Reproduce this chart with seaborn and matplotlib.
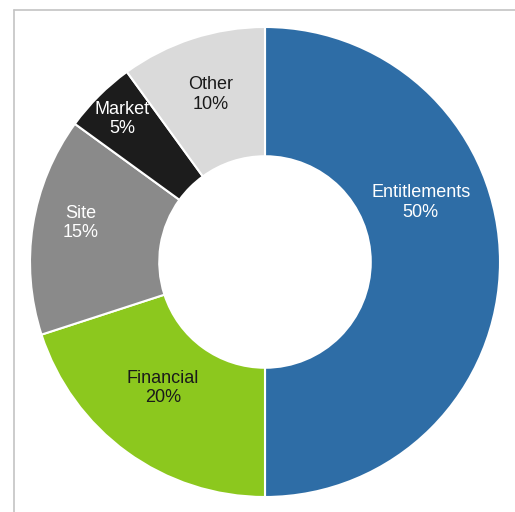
import matplotlib
matplotlib.use("Agg")
import matplotlib.pyplot as plt
from matplotlib.lines import Line2D
import seaborn as sns
import numpy as np

# data
categories = ["Entitlements", "Financial", "Site", "Market", "Other"]
shares = [50, 20, 15, 5, 10]
colors = ["#2e6da6", "#8cc81e", "#8a8a8a", "#1c1c1c", "#dadada"]
text_colors = ["white", "#1a1a1a", "white", "white", "#1a1a1a"]
# label placement tweaks (style only)
label_shift_deg = [21, -3, -3, 0, 0]
label_radius = [0.71, 0.69, 0.8, 0.86, 0.75]

sns.set_theme(style="white")
plt.rcParams["font.family"] = ["Liberation Sans", "DejaVu Sans"]

fig = plt.figure(figsize=(5.15, 5.12), dpi=100)
ax = fig.add_axes([30 / 515, 15 / 512, 470 / 515, 470 / 512])

wedges, _ = ax.pie(shares, colors=colors, startangle=90, counterclock=False,
                   radius=1.0, wedgeprops=dict(width=0.55, edgecolor="white", linewidth=1.5))

# labels at wedge midpoints
total = sum(shares)
start = 90.0
for i, (cat, val) in enumerate(zip(categories, shares)):
    span = 360.0 * val / total
    mid = np.deg2rad(start - span / 2 + label_shift_deg[i])
    start -= span
    x = label_radius[i] * np.cos(mid)
    y = label_radius[i] * np.sin(mid)
    ax.text(x, y, f"{cat}\n{val}%", ha="center", va="center",
            fontsize=13, color=text_colors[i], linespacing=1.2)

ax.set_xlim(-1, 1)
ax.set_ylim(-1, 1)
ax.set_aspect("equal")
ax.axis("off")

# thin frame lines at top and left
fig.add_artist(Line2D([14 / 515, 1], [1 - 10 / 512, 1 - 10 / 512], color="#c4c4c4", lw=1.2))
fig.add_artist(Line2D([14 / 515, 14 / 515], [0, 1 - 10 / 512], color="#c4c4c4", lw=1.2))

fig.savefig("out.png", dpi=100)
